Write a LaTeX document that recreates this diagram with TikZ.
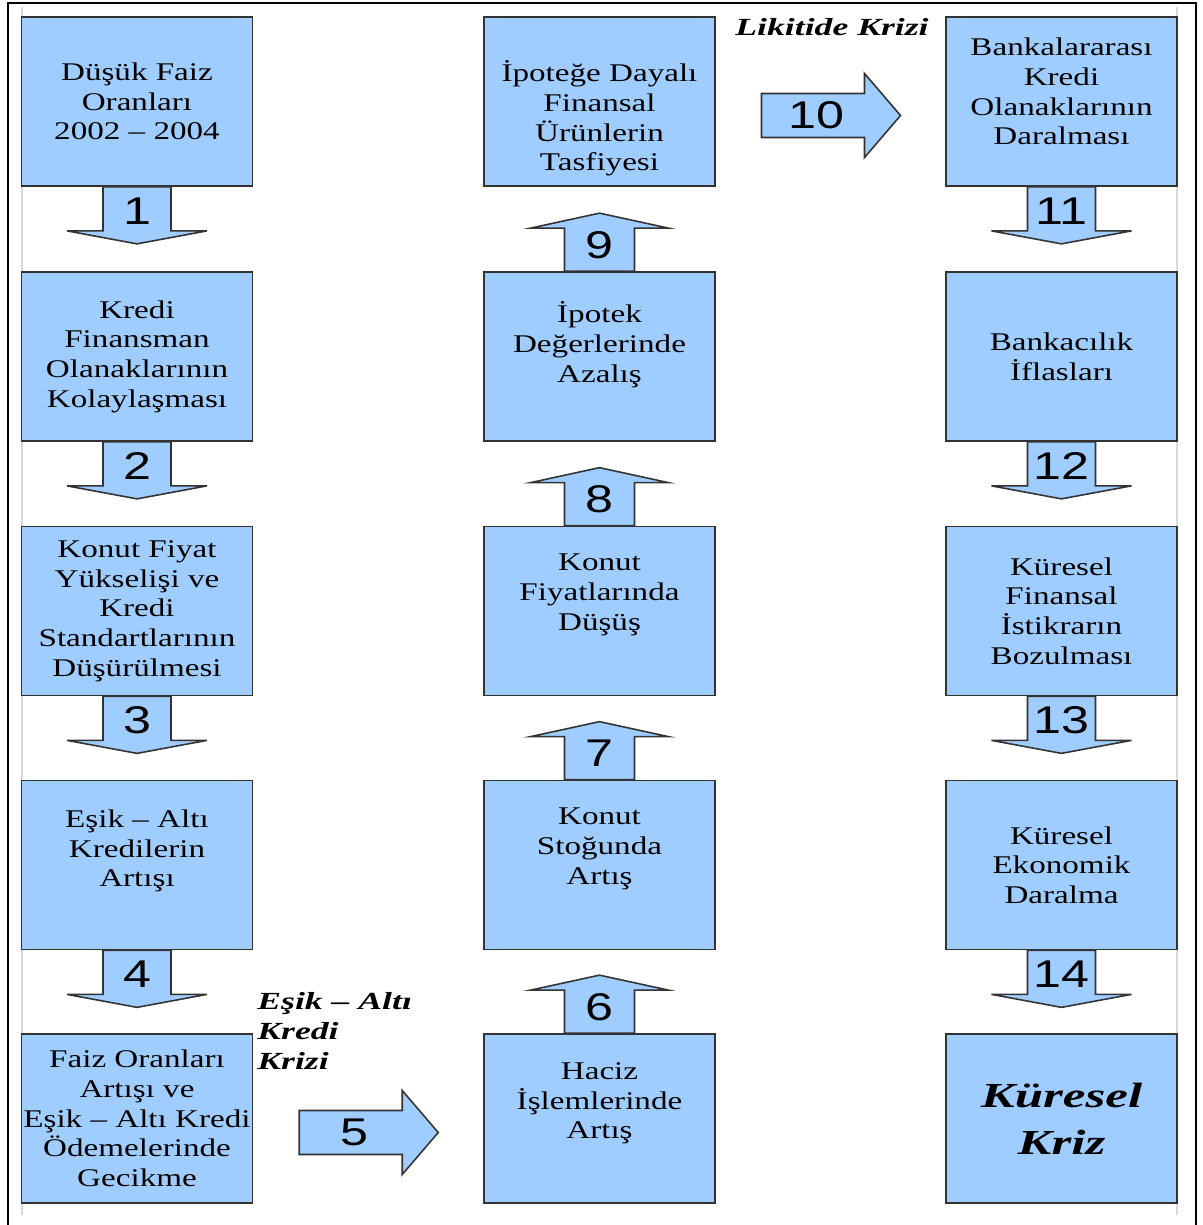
\documentclass[tikz,border=0pt]{standalone}
\usepackage{fontspec}
\setmainfont{Liberation Serif}
\newfontfamily\boxfont[FakeStretch=1.3]{Liberation Serif}
\newfontfamily\numfont[FakeStretch=1.3]{Liberation Sans}
\newfontfamily\lblfont[FakeStretch=1.45]{Liberation Serif}
\usetikzlibrary{calc}
\definecolor{boxblue}{RGB}{160,205,255}

\tikzset{
  box/.style={draw=black!80,line width=1pt,fill=boxblue,minimum width=4.62cm,minimum height=3.38cm,inner sep=0pt},
  txt/.style={align=center,font=\boxfont\fontsize{14.5}{16.9}\selectfont,inner sep=0pt},
  num/.style={font=\numfont\fontsize{22}{22}\selectfont,inner sep=0pt},
  blk/.style={draw=black!80,line width=0.9pt,fill=boxblue,line join=miter},
  crisis/.style={font=\lblfont\bfseries\itshape\fontsize{14}{17}\selectfont,align=left,inner sep=0pt}
}

% block arrows: source node, number, name of number node
\newcommand{\dnblk}[3]{%
  \draw[blk] ($(#1.south)+(-34,0)$) -- ++(0,44) -- ++(-36,0) -- ($(#1.south)+(0,57)$)
    -- ++(70,-13) -- ++(-36,0) -- ++(0,-44) -- cycle;
  \node[num] (#3) at ($(#1.south)+(0,24)$) {#2};}
\newcommand{\upblk}[3]{%
  \draw[blk] ($(#1.north)+(-35,0)$) -- ++(0,-43) -- ++(-34,0) -- ($(#1.north)+(0,-58)$)
    -- ++(69,15) -- ++(-34,0) -- ++(0,43) -- cycle;
  \node[num] (#3) at ($(#1.north)+(0,-26)$) {#2};}
\newcommand{\rtblk}[4]{%
  \coordinate (#4c) at ($(#1.east)!0.5!(#2.west)+(0,14)$);
  \draw[blk] ($(#4c)+(-69,-22)$) -- ++(103,0) -- ++(0,-20) -- ($(#4c)+(70,0)$)
    -- ++(-36,42) -- ++(0,-20) -- ++(-103,0) -- cycle;
  \node[num] (#4) at ($(#4c)+(-14,0)$) {#3};}

\begin{document}
\begin{tikzpicture}[x=0.02cm,y=-0.02cm]
\useasboundingbox (0,0) rectangle (1203,1225);
% page frame
\draw[gray!30,line width=0.8pt] (22,7) -- (22,1215);
\draw[gray!30,line width=0.8pt] (1177,7) -- (1177,1215);
\draw[line width=1.2pt] (8,1230) -- (8,3) -- (1196,3) -- (1196,1230);

% left column
\node[box] (b1) at (137,101.5) {};
\node[box] (b2) at (137,356.5) {};
\node[box] (b3) at (137,611) {};
\node[box] (b4) at (137,865) {};
\node[box] (b5) at (137,1118.5) {};
% middle column
\node[box] (b6) at (599.5,1118.5) {};
\node[box] (b7) at (599.5,865) {};
\node[box] (b8) at (599.5,611) {};
\node[box] (b9) at (599.5,356.5) {};
\node[box] (b10) at (599.5,101.5) {};
% right column
\node[box] (b11) at (1061.5,101.5) {};
\node[box] (b12) at (1061.5,356.5) {};
\node[box] (b13) at (1061.5,611) {};
\node[box] (b14) at (1061.5,865) {};
\node[box] (b15) at (1061.5,1118.5) {};

\node[txt] (t1) at (b1) {Düşük Faiz\\Oranları\\2002 – 2004};
\node[txt] (t2) at (b2) {Kredi\\Finansman\\Olanaklarının\\Kolaylaşması};
\node[txt] (t3) at (b3) {Konut Fiyat\\Yükselişi ve\\Kredi\\Standartlarının\\Düşürülmesi};
\node[txt] (t4) at ($(b4)+(0,-14)$) {Eşik – Altı\\Kredilerin\\Artışı};
\node[txt] (t5) at (b5) {Faiz Oranları\\Artışı ve\\Eşik – Altı Kredi\\Ödemelerinde\\Gecikme};
\node[txt] (t6) at ($(b6)+(0,-15)$) {Haciz\\İşlemlerinde\\Artış};
\node[txt] (t7) at ($(b7)+(0,-16)$) {Konut\\Stoğunda\\Artış};
\node[txt] (t8) at ($(b8)+(0,-16)$) {Konut\\Fiyatlarında\\Düşüş};
\node[txt] (t9) at ($(b9)+(0,-12)$) {İpotek\\Değerlerinde\\Azalış};
\node[txt] (t10) at ($(b10)+(0,17)$) {İpoteğe Dayalı\\Finansal\\Ürünlerin\\Tasfiyesi};
\node[txt] (t11) at ($(b11)+(0,-10)$) {Bankalararası\\Kredi\\Olanaklarının\\Daralması};
\node[txt] (t12) at (b12) {Bankacılık\\İflasları};
\node[txt] (t13) at (b13) {Küresel\\Finansal\\İstikrarın\\Bozulması};
\node[txt] (t14) at (b14) {Küresel\\Ekonomik\\Daralma};
\node[txt,font=\lblfont\bfseries\itshape\fontsize{20}{26.6}\selectfont] (t15) at (b15) {Küresel\\Kriz};

\dnblk{b1}{1}{n1}
\dnblk{b2}{2}{n2}
\dnblk{b3}{3}{n3}
\dnblk{b4}{4}{n4}
\rtblk{b5}{b6}{5}{n5}
\upblk{b6}{6}{n6}
\upblk{b7}{7}{n7}
\upblk{b8}{8}{n8}
\upblk{b9}{9}{n9}
\rtblk{b10}{b11}{10}{n10}
\dnblk{b11}{11}{n11}
\dnblk{b12}{12}{n12}
\dnblk{b13}{13}{n13}
\dnblk{b14}{14}{n14}

\node[crisis,anchor=base] (lk) at (832,35) {Likitide Krizi};
\node[crisis,anchor=north west] (ek) at (257,992) {Eşik – Altı\\Kredi\\Krizi};
\end{tikzpicture}
\end{document}
